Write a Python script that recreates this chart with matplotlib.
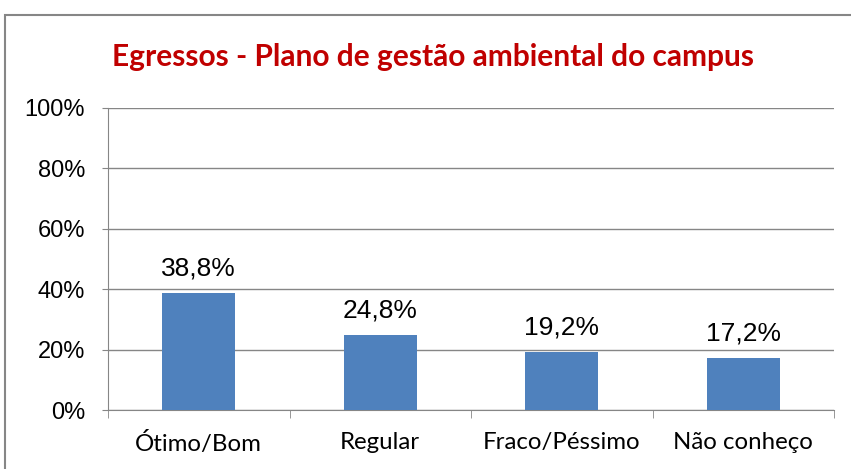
import matplotlib
matplotlib.use("Agg")
import matplotlib.pyplot as plt
import numpy as np

categories = ["Ótimo/Bom", "Regular", "Fraco/Péssimo", "Não conheço"]
values = [38.8, 24.8, 19.2, 17.2]
value_labels = ["38,8%", "24,8%", "19,2%", "17,2%"]
yticks = [0, 20, 40, 60, 80, 100]
ytick_labels = ["0%", "20%", "40%", "60%", "80%", "100%"]
title = "Egressos - Plano de gestão ambiental do campus"

fig = plt.figure(figsize=(8.51, 4.69), dpi=100)
ax = fig.add_axes([108/851, 1-410/469, (834-108)/851, (410-108)/469])

x = np.arange(len(categories))
ax.bar(x, values, width=0.4, color="#4F81BD", zorder=3)
ax.set_xlim(-0.5, len(categories)-0.5)
ax.set_ylim(0, 100)

ax.set_yticks(yticks)
ax.set_yticklabels(ytick_labels, fontsize=17, family="Liberation Sans")
ax.yaxis.grid(True, color="#868686", linewidth=1, zorder=0)
ax.tick_params(axis="y", length=4.5, color="#868686", pad=12)

ax.set_xticks(x)
ax.set_xticklabels(categories, fontsize=17.3, family="Lato")
ax.set_xticks(np.arange(-0.5, len(categories)), minor=True)
ax.tick_params(axis="x", which="major", length=0, pad=16)
ax.tick_params(axis="x", which="minor", length=6, color="#868686")

for s in ["top", "right"]:
    ax.spines[s].set_visible(False)
for s in ["left", "bottom"]:
    ax.spines[s].set_color("#868686")

for xi, v, lab in zip(x, values, value_labels):
    ax.annotate(lab, (xi, v), xytext=(0, 9), textcoords="offset points",
                ha="center", va="bottom", fontsize=19, family="Liberation Sans")

fig.text(433/851, 1-57/469, title, ha="center", va="center", color="#C00000",
         fontsize=21.5, fontweight="bold", family="Lato")

# figure border
fig.patches.append(matplotlib.patches.Rectangle((5/851, -0.1), 1.0, 1-15/469+0.1,
                   transform=fig.transFigure, fill=False, edgecolor="#868686", linewidth=1.5))

fig.savefig("out.png", dpi=100)
